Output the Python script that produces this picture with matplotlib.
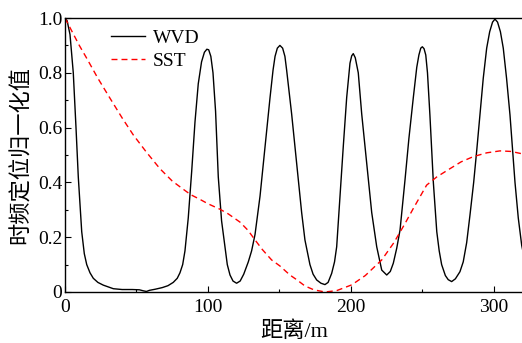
import matplotlib
matplotlib.use('Agg')
import matplotlib.pyplot as plt
from matplotlib.ticker import MultipleLocator

plt.rcParams['font.family'] = ['Liberation Serif', 'Noto Sans CJK SC']

# WVD curve
wvd_x = [0, 1.5, 3.5, 5.8, 7.7, 9.3, 11.7, 13.5, 15.2, 17.5, 19.8, 23, 26.8, 33.8, 40, 47, 52, 55, 57, 59,
         63, 68, 72, 75.7, 78.5, 80.4, 82.3, 83.9, 86.2, 88.6, 90.9, 93.2, 95.5, 97.5, 99.2, 100.5, 102, 103.5,
         105.3, 107.2, 109.5, 111.9, 113.5, 115.4, 117.5, 120, 122.5, 125, 128.2, 130.5, 132.9, 136.4, 139.9,
         143.4, 145.5, 146.9, 148.5, 150.3, 152.2, 153.8, 155, 158.5, 162, 165.5, 167.8, 171.3, 173.5, 176,
         179, 181.8, 184, 186.5, 188.5, 190, 192.3, 194.6, 197, 199.3, 200.5, 201.6, 203, 205.1, 207.5, 211,
         214.5, 218, 221.5, 225, 227.5, 229.6, 232, 234.3, 237.8, 240.5, 243.6, 246, 247.5, 248.8, 249.9,
         251.1, 252.3, 253.5, 255.2, 257.6, 260, 261.7, 263.4, 266, 268, 270.4, 273, 276.2, 278.5, 280.9,
         283.2, 285.8, 288, 290.2, 292.5, 294.9, 297, 299, 300.7, 302.5, 304.5, 306.5, 308.8, 311.2, 314.7,
         317, 319.4, 320]
wvd_y = [1.0, 0.99, 0.94, 0.80, 0.60, 0.42, 0.22, 0.14, 0.10, 0.07, 0.05, 0.035, 0.025, 0.012, 0.009, 0.009,
         0.008, 0.004, 0.002, 0.006, 0.01, 0.016, 0.023, 0.035, 0.05, 0.07, 0.10, 0.15, 0.27, 0.44, 0.62, 0.76,
         0.84, 0.875, 0.886, 0.884, 0.86, 0.80, 0.66, 0.42, 0.26, 0.165, 0.10, 0.062, 0.04, 0.032, 0.04, 0.065,
         0.11, 0.15, 0.21, 0.35, 0.53, 0.71, 0.81, 0.86, 0.89, 0.90, 0.89, 0.86, 0.81, 0.65, 0.47, 0.29, 0.19,
         0.10, 0.065, 0.044, 0.032, 0.027, 0.035, 0.068, 0.11, 0.165, 0.35, 0.53, 0.71, 0.835, 0.862, 0.87,
         0.855, 0.80, 0.65, 0.47, 0.29, 0.165, 0.08, 0.062, 0.075, 0.105, 0.16, 0.226, 0.41, 0.56, 0.71, 0.82,
         0.865, 0.89, 0.895, 0.888, 0.865, 0.80, 0.646, 0.40, 0.22, 0.15, 0.10, 0.06, 0.045, 0.038, 0.048,
         0.074, 0.11, 0.18, 0.28, 0.40, 0.52, 0.646, 0.78, 0.89, 0.95, 0.985, 0.996, 0.985, 0.95, 0.89, 0.78,
         0.646, 0.40, 0.27, 0.17, 0.155]

# SST curve
sst_x = [0, 5, 10, 15.2, 23, 31.5, 40, 47.8, 57, 66.4, 75, 82.7, 88, 94.4, 100, 108.4, 114.2, 122.4, 128,
         132.9, 138, 144.5, 150.3, 157.3, 162, 167.8, 174, 181.8, 190, 200.5, 210, 221.5, 230, 237.8, 243.6,
         252.9, 260, 269.2, 277, 285.5, 295, 304.2, 312, 320]
sst_y = [1.0, 0.95, 0.9, 0.853, 0.78, 0.707, 0.635, 0.573, 0.51, 0.45, 0.405, 0.375, 0.355, 0.338, 0.322,
         0.302, 0.285, 0.255, 0.225, 0.19, 0.155, 0.117, 0.095, 0.062, 0.045, 0.022, 0.008, 0.0, 0.005, 0.026,
         0.06, 0.117, 0.18, 0.25, 0.305, 0.39, 0.42, 0.45, 0.475, 0.494, 0.508, 0.515, 0.513, 0.504]

xticks = [0, 100, 200, 300]
yticks = [0, 0.2, 0.4, 0.6, 0.8, 1.0]
ytick_labels = ['0', '0.2', '0.4', '0.6', '0.8', '1.0']

fig = plt.figure(figsize=(5.22, 3.43), dpi=100)
ax = fig.add_axes([0.1245, 0.1487, 0.8766, 0.7988])

ax.plot(wvd_x, wvd_y, color='black', lw=1.0, label='WVD')
ax.plot(sst_x, sst_y, color='red', lw=1.0, linestyle='--', dashes=(4.3, 2.9), label='SST')

ax.set_xlim(0, 320)
ax.set_ylim(0, 1.0)
ax.set_xticks(xticks)
ax.set_xticklabels([str(t) for t in xticks])
ax.set_yticks(yticks)
ax.set_yticklabels(ytick_labels)
ax.xaxis.set_minor_locator(MultipleLocator(50))
ax.yaxis.set_minor_locator(MultipleLocator(0.1))
ax.tick_params(which='both', direction='in', top=False, right=False, labelsize=14, width=0.8)
ax.tick_params(axis='x', which='major', length=4, pad=5)
ax.tick_params(axis='y', which='major', length=4, pad=2)
ax.tick_params(which='minor', length=2.5)
ax.spines['right'].set_visible(False)
for s in ['left', 'bottom', 'top']:
    ax.spines[s].set_linewidth(1.0)

ax.set_xlabel('距离/m', fontsize=16, labelpad=4)
ax.set_ylabel('时频定位归一化值', fontsize=16, labelpad=4)

ax.legend(loc='upper left', bbox_to_anchor=(0.1, 0.96), frameon=False, fontsize=14,
          handlelength=1.75, handletextpad=0.4, labelspacing=0.3, borderpad=0, borderaxespad=0)

plt.savefig('out.png', dpi=100)
